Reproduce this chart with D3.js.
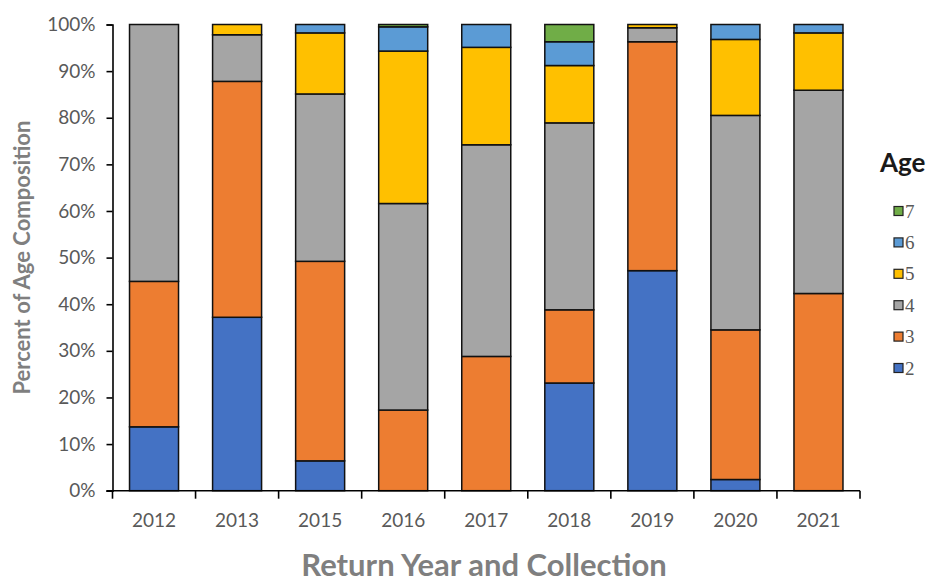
<!DOCTYPE html>
<html>
<head>
<meta charset="utf-8">
<script src="https://cdn.jsdelivr.net/npm/d3@7"></script>
<style>
  html, body { margin: 0; padding: 0; background: #fff; }
  svg { display: block; }
</style>
</head>
<body>
<svg id="chart" width="930" height="582"></svg>
<script>
const categories = ["2012", "2013", "2015", "2016", "2017", "2018", "2019", "2020", "2021"];
const ages = ["2", "3", "4", "5", "6", "7"];
const age2 = [13.7, 37.2, 6.4, 0, 0, 23.1, 47.2, 2.4, 0];
const age3 = [31.2, 50.6, 42.8, 17.3, 28.8, 15.7, 49.1, 32.1, 42.3];
const age4 = [55.1, 10.0, 35.9, 44.3, 45.4, 40.1, 3.0, 46.0, 43.6];
const age5 = [0, 2.2, 13.1, 32.7, 20.9, 12.3, 0.7, 16.3, 12.3];
const age6 = [0, 0, 1.8, 5.2, 4.9, 5.1, 0, 3.2, 1.8];
const age7 = [0, 0, 0, 0.5, 0, 3.7, 0, 0, 0];
const yTicks = [0, 10, 20, 30, 40, 50, 60, 70, 80, 90, 100];
const colors = ["#4472C4", "#ED7D31", "#A5A5A5", "#FFC000", "#5B9BD5", "#70AD47"];

(function () {
  const series = [age2, age3, age4, age5, age6, age7];
  const rows = categories.map((c, i) => {
    const r = { year: c };
    ages.forEach((a, k) => { r[a] = series[k][i]; });
    return r;
  });

  const svg = d3.select("#chart");
  const pLeft = 112.5, pRight = 860, pTop = 24.5, pBottom = 490.7;
  const sans = "Lato, 'Open Sans', sans-serif";

  const x = d3.scaleBand().domain(categories).range([pLeft, pRight])
    .paddingInner(0.41).paddingOuter(0.205);
  const y = d3.scaleLinear().domain([0, 100]).range([pBottom, pTop]);

  const stacked = d3.stack().keys(ages)(rows);

  const g = svg.append("g");
  stacked.forEach((layer, k) => {
    g.selectAll(null)
      .data(layer.filter(d => d[1] - d[0] > 0))
      .enter().append("rect")
      .attr("x", d => x(d.data.year))
      .attr("width", x.bandwidth())
      .attr("y", d => y(d[1]))
      .attr("height", d => y(d[0]) - y(d[1]))
      .attr("fill", colors[k])
      .attr("stroke", "#111")
      .attr("stroke-width", 1.5);
  });

  // Y axis
  const yAxis = d3.axisLeft(y).tickValues(yTicks).tickFormat(d => d + "%").tickSize(6).tickPadding(11);
  const yg = svg.append("g").attr("transform", `translate(${pLeft},0)`).call(yAxis);
  yg.select(".domain").attr("stroke", "#000").attr("stroke-width", 1.6);
  yg.selectAll(".tick line").attr("stroke", "#000").attr("stroke-width", 1.6);
  yg.selectAll(".tick text").attr("fill", "#595959")
    .style("font-family", sans).style("font-size", "19px");

  // X axis
  const xAxis = d3.axisBottom(x).tickSize(0).tickPadding(23);
  const xg = svg.append("g").attr("transform", `translate(0,${pBottom})`).call(xAxis);
  xg.select(".domain").remove();
  xg.append("line").attr("x1", pLeft - 6).attr("x2", pRight).attr("y1", 0).attr("y2", 0)
    .attr("stroke", "#000").attr("stroke-width", 1.6);
  const boundaries = d3.range(categories.length + 1).map(i => pLeft + i * x.step());
  xg.selectAll(".bt").data(boundaries).enter().append("line")
    .attr("x1", d => d).attr("x2", d => d).attr("y1", 0).attr("y2", 8)
    .attr("stroke", "#000").attr("stroke-width", 1.6);
  xg.selectAll(".tick text").attr("fill", "#595959")
    .style("font-family", sans).style("font-size", "19px");

  // Axis titles
  svg.append("text")
    .attr("transform", `translate(30,${(pTop + pBottom) / 2}) rotate(-90)`)
    .attr("text-anchor", "middle")
    .attr("fill", "#7F7F7F").style("font-family", sans)
    .style("font-weight", "bold").style("font-size", "22px")
    .text("Percent of Age Composition");

  svg.append("text")
    .attr("x", 484).attr("y", 576)
    .attr("text-anchor", "middle")
    .attr("fill", "#7F7F7F").style("font-family", sans)
    .style("font-weight", "bold").style("font-size", "31px")
    .text("Return Year and Collection");

  // Legend
  const lg = svg.append("g");
  lg.append("text").attr("x", 880).attr("y", 172)
    .attr("fill", "#1a1a1a").style("font-family", sans)
    .style("font-weight", "bold").style("font-size", "26px").text("Age");
  const legendAges = ages.slice().reverse();
  const ly = d3.scalePoint().domain(legendAges).range([211, 368]);
  legendAges.forEach(a => {
    const k = ages.indexOf(a);
    lg.append("rect").attr("x", 894).attr("y", ly(a) - 4.5).attr("width", 9).attr("height", 9)
      .attr("fill", colors[k]).attr("stroke", "#222").attr("stroke-width", 1.2);
    lg.append("text").attr("x", 905).attr("y", ly(a) + 6.5)
      .attr("fill", "#595959").style("font-family", "'Liberation Serif', 'DejaVu Serif', serif")
      .style("font-size", "19px").text(a);
  });
})();
</script>
</body>
</html>
